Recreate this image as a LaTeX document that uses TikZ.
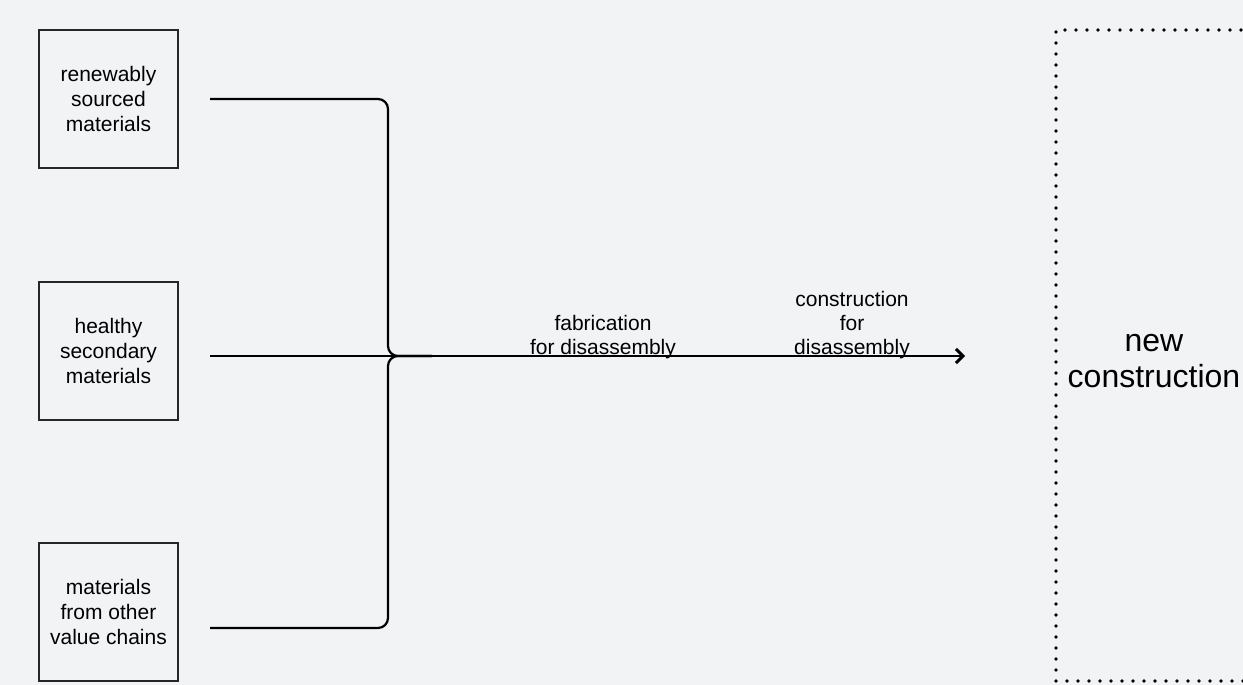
\documentclass[tikz,border=0pt]{standalone}
\usepackage{fontspec}
\setsansfont{Liberation Sans}
\usetikzlibrary{arrows.meta}
\definecolor{canvas}{HTML}{F2F3F5}

\begin{document}
\begin{tikzpicture}[
    x=1pt,
    y=-1pt,
    font=\sffamily,
    source/.style={
        rectangle,
        draw=black!85,
        line width=1.4pt,
        minimum width=139pt,
        minimum height=138pt,
        align=center,
        inner sep=0pt,
        font=\sffamily\fontsize{21}{25}\selectfont
    },
    target/.style={
        rectangle,
        draw=black,
        line width=3.8pt,
        dash pattern=on 0pt off 11pt,
        line cap=round,
        minimum width=196pt,
        minimum height=651pt
    },
    bigtext/.style={align=center, inner sep=0pt, font=\sffamily\fontsize{32}{36}\selectfont},
    steplabel/.style={align=center, inner sep=0pt, font=\sffamily\fontsize{21}{24}\selectfont},
    feed/.style={line width=2.2pt, rounded corners=10pt},
    flowarrow/.style={-{Straight Barb[length=7pt,width=14pt,line width=3pt]}, line width=2.2pt}
]

\clip (0,0) rectangle (1243,685);
\fill[canvas] (0,0) rectangle (1243,685);

\node[source] (renew) at (108.5,99) {renewably\\sourced\\materials};
\node[source] (second) at (108.5,351) {healthy\\secondary\\materials};
\node[source] (other) at (108.5,612) {materials\\from other\\value chains};

\node[target] (newcon) at (1154,355.5) {};
\node[bigtext] (newtext) at (1154,361) {new\\construction};

\coordinate (in1) at (210,99);
\coordinate (in2) at (210,356);
\coordinate (in3) at (210,628);
\coordinate (merge) at (432,356);
\coordinate (out) at (965,356);

% feeders join the main line
\draw[feed] (in1) -- (388,99) -- (388,356) -- (merge);
\draw[feed] (in3) -- (388,628) -- (388,356) -- (merge);
\draw[flowarrow] (in2) -- (out);

\node[steplabel] (fab) at (603,337.5) {fabrication\\for disassembly};
\node[steplabel] (cons) at (852,325) {construction\\for\\disassembly};

\end{tikzpicture}
\end{document}
